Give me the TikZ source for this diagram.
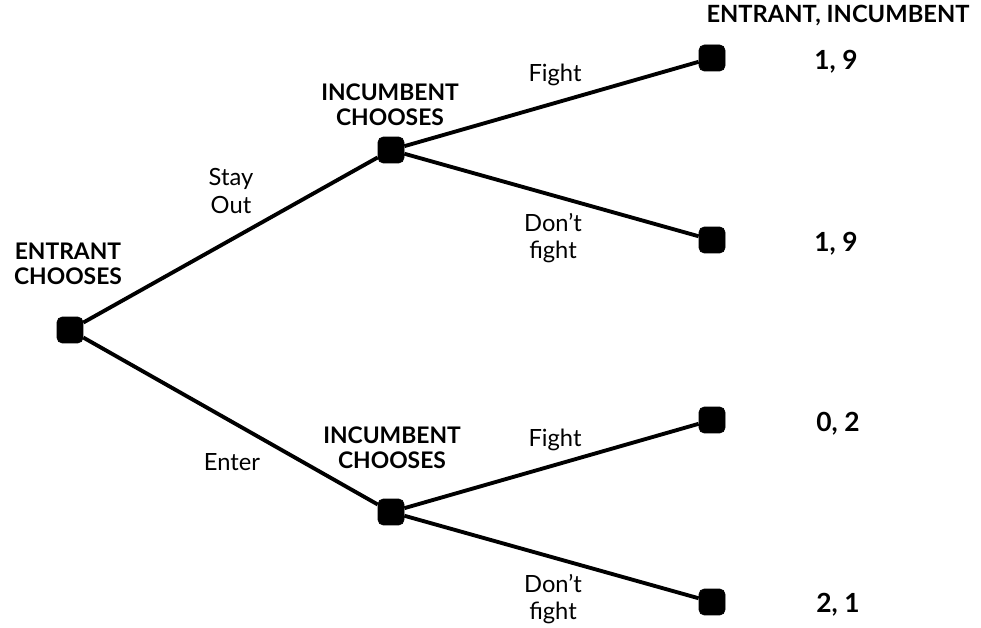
\documentclass[tikz,border=0pt]{standalone}
\usepackage{fontspec}
\setmainfont{Lato}
\usetikzlibrary{positioning}

\begin{document}
\begin{tikzpicture}[x=0.02cm, y=-0.02cm, line width=2.2pt,
    choice/.style={draw, fill, line width=0.4pt, rounded corners=3pt, minimum size=0.52cm, inner sep=0pt},
    player/.style={font=\fontsize{13}{14.5}\selectfont\bfseries, align=center},
    move/.style={font=\fontsize{13.5}{15.5}\selectfont, align=center},
    payoff/.style={font=\fontsize{13.5}{15}\selectfont\bfseries}]
  \useasboundingbox (0,0) rectangle (981,628);
  % decision nodes
  \node[choice] (E) at (70,330) {};
  \node[choice] (IU) at (391,150) {};
  \node[choice] (IL) at (391,512) {};
  % end nodes
  \node[choice] (T1) at (712,58) {};
  \node[choice] (T2) at (712,240) {};
  \node[choice] (T3) at (712,420) {};
  \node[choice] (T4) at (712,602) {};
  \draw (E) -- (IU);
  \draw (E) -- (IL);
  \draw (IU) -- (T1);
  \draw (IU) -- (T2);
  \draw (IL) -- (T3);
  \draw (IL) -- (T4);
  % who moves
  \node[player] (EL) at (68,264) {ENTRANT\\CHOOSES};
  \node[player] (IUL) at (390,105) {INCUMBENT\\CHOOSES};
  \node[player] (ILL) at (392,448) {INCUMBENT\\CHOOSES};
  % moves
  \node[move] (stay) at (231,191) {Stay\\Out};
  \node[move] (enter) at (232,462) {Enter};
  \node[move] (f1) at (555,75) {Fight};
  \node[move] (d1) at (553,238) {Don’t\\fight};
  \node[move] (f2) at (555,440) {Fight};
  \node[move] (d2) at (553,599) {Don’t\\fight};
  % payoffs
  \node[payoff] (head) at (838,16) {ENTRANT, INCUMBENT};
  \node[payoff, font=\fontsize{15}{17}\selectfont\bfseries] (p1) at (836,62) {1, 9};
  \node[payoff, font=\fontsize{15}{17}\selectfont\bfseries] (p2) at (836,244) {1, 9};
  \node[payoff, font=\fontsize{15}{17}\selectfont\bfseries] (p3) at (838,424) {0, 2};
  \node[payoff, font=\fontsize{15}{17}\selectfont\bfseries] (p4) at (838,605) {2, 1};
\end{tikzpicture}
\end{document}
